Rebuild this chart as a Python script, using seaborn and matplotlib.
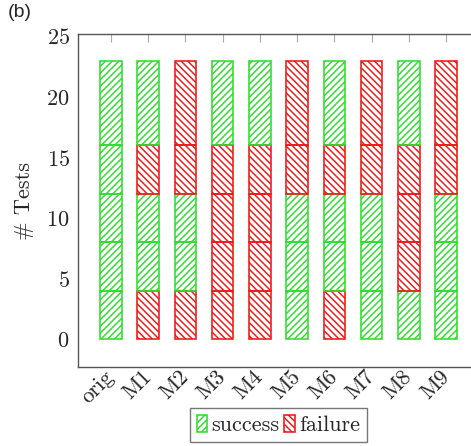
import matplotlib
matplotlib.use("Agg")
import matplotlib.pyplot as plt
from matplotlib.patches import Patch
from matplotlib.colors import to_hex
import pandas as pd
import seaborn as sns

# Program versions and the block of tests that each stacked segment stands for
mutants = ["orig", "M1", "M2", "M3", "M4", "M5", "M6", "M7", "M8", "M9"]
segment_bounds = [0, 4, 8, 12, 16, 23]

# Outcome of each block of tests, one entry per version (bottom block first)
tests_0_4 = ["success", "failure", "failure", "failure", "failure",
             "success", "failure", "success", "success", "success"]
tests_4_8 = ["success", "success", "success", "failure", "failure",
             "success", "success", "success", "failure", "success"]
tests_8_12 = ["success", "success", "success", "failure", "failure",
              "success", "success", "success", "failure", "success"]
tests_12_16 = ["success", "failure", "failure", "failure", "failure",
               "failure", "failure", "failure", "failure", "failure"]
tests_16_23 = ["success", "success", "failure", "success", "success",
               "failure", "success", "failure", "success", "failure"]
blocks = [tests_0_4, tests_4_8, tests_8_12, tests_12_16, tests_16_23]

outcome_order = ["success", "failure"]
colors = {"success": "#2edc2e", "failure": "#ee1818"}
hatches = {"success": "/////", "failure": "\\\\\\\\\\"}

sns.set_style("white")
plt.rcParams["font.family"] = ["cmr10", "DejaVu Serif"]
plt.rcParams["axes.formatter.use_mathtext"] = True
plt.rcParams["hatch.linewidth"] = 1.05

FS = 16
W, H = 471, 446
fig = plt.figure(figsize=(W / 100, H / 100), dpi=100)
ax = fig.add_axes([78 / W, 79 / H, (479 - 78) / W, 333 / H])

for lo, hi, block in zip(segment_bounds[:-1], segment_bounds[1:], blocks):
    df = pd.DataFrame({"mutant": mutants,
                       "tests": [hi - lo] * len(mutants),
                       "outcome": block})
    sns.barplot(data=df, x="mutant", y="tests", hue="outcome",
                order=mutants, hue_order=outcome_order, palette=colors,
                dodge=False, fill=False, width=0.58, linewidth=1.15,
                bottom=lo, legend=False, ax=ax)

# Hatch every segment according to its outcome colour
green = to_hex(colors["success"])
for bar in ax.patches:
    ec = to_hex(bar.get_edgecolor())
    key = "success" if ec == green else "failure"
    bar.set_hatch(hatches[key])
    bar.set_edgecolor(colors[key])
    bar.set_facecolor("none")

ax.set_xlim(-0.887, 9.887)
ax.set_ylim(-2.3, 25.2)
ax.set_yticks([0, 5, 10, 15, 20, 25])
ax.set_xlabel("")
ax.set_ylabel("# Tests", fontsize=FS, labelpad=9)

for s in ax.spines.values():
    s.set_color("#555555")
    s.set_linewidth(1.0)
ax.tick_params(direction="in", length=6, width=0.8, color="#a8a8a8",
               top=True, right=True, labelsize=FS, pad=6)
ax.tick_params(axis="x", pad=5)
for lab in ax.get_xticklabels():
    lab.set_rotation(45)
    lab.set_ha("right")
    lab.set_va("center")
    lab.set_rotation_mode("anchor")

handles = [Patch(facecolor="none", edgecolor=colors[k], hatch=hatches[k],
                 linewidth=1.15, label=k) for k in outcome_order]
leg = ax.legend(handles=handles, loc="upper center",
                bbox_to_anchor=(0.5, -0.123), ncol=2, fontsize=FS,
                frameon=True, fancybox=False, handlelength=0.46,
                handleheight=0.8, handletextpad=0.2, columnspacing=0.2,
                borderpad=0.3, borderaxespad=0)
leg.get_frame().set_edgecolor("#555555")
leg.get_frame().set_linewidth(1.0)

fig.text(8 / W, 1 - 4 / H, "(b)", family="Liberation Sans", fontsize=14,
         va="top", ha="left")

fig.savefig("out.png", dpi=100)
